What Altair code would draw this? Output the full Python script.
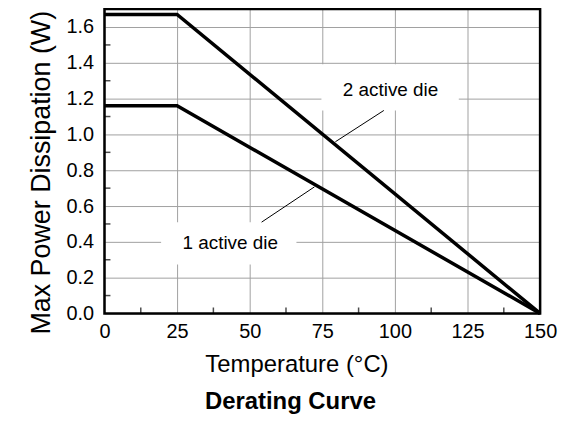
import altair as alt
import pandas as pd

# ---- data ----
temps = [0, 25, 150]
two_die = [1.67, 1.67, 0.0]
one_die = [1.16, 1.16, 0.0]
series_names = ["2 active die", "1 active die"]

x_domain = [0, 150]
y_domain = [0, 1.7]
x_ticks = [0, 25, 50, 75, 100, 125, 150]
y_ticks = [0.0, 0.2, 0.4, 0.6, 0.8, 1.0, 1.2, 1.4, 1.6]
x_minor = [12.5, 37.5, 62.5, 87.5, 112.5, 137.5]
y_minor = [0.1, 0.3, 0.5, 0.7, 0.9, 1.1, 1.3, 1.5]

label_text = ["2 active die", "1 active die"]
label_x = [98.5, 43.3]
label_y = [1.25, 0.395]
box_x1 = [74.7, 19.5]
box_x2 = [122.0, 66.1]
box_y1 = [1.134, 0.274]
box_y2 = [1.392, 0.51]
lead_x1 = [96.2, 54.1]
lead_y1 = [1.134, 0.51]
lead_x2 = [79.5, 72.3]
lead_y2 = [0.959, 0.707]

FONT = "Liberation Sans"

lines_df = pd.DataFrame({
    "T": temps * 2,
    "P": two_die + one_die,
    "series": [series_names[0]] * len(temps) + [series_names[1]] * len(temps),
})
ann_df = pd.DataFrame({
    "label": label_text, "lx": label_x, "ly": label_y,
    "bx1": box_x1, "bx2": box_x2, "by1": box_y1, "by2": box_y2,
    "ax1": lead_x1, "ay1": lead_y1, "ax2": lead_x2, "ay2": lead_y2,
})
xminor_df = pd.DataFrame({"T": x_minor, "P": [y_domain[0]] * len(x_minor)})
yminor_df = pd.DataFrame({"P": y_minor, "T": [x_domain[0]] * len(y_minor)})
frame_df = pd.DataFrame({"fx1": [x_domain[0]], "fx2": [x_domain[1]],
                         "fy1": [y_domain[0]], "fy2": [y_domain[1]]})

xscale = alt.Scale(domain=x_domain, nice=False, zero=True)
yscale = alt.Scale(domain=y_domain, nice=False, zero=True)

xaxis = alt.Axis(
    values=x_ticks, format="d", grid=True, gridColor="#a0a0a0", gridWidth=1,
    ticks=False, domain=False, labelFontSize=20, labelPadding=8,
    labelColor="black", labelFlush=False, labelOverlap=False,
    labelFont=FONT, titleFont=FONT,
    title="Temperature (°C)", titleFontSize=24, titleFontWeight="normal",
    titleColor="black", titleX=193, titleY=58, titleBaseline="alphabetic",
)
yaxis = alt.Axis(
    values=y_ticks, format=".1f", grid=True, gridColor="#a0a0a0", gridWidth=1,
    ticks=False, domain=False, labelFontSize=20, labelPadding=11,
    labelColor="black", labelOverlap=False,
    labelFont=FONT, titleFont=FONT,
    title="Max Power Dissipation (W)", titleFontSize=27, titleFontWeight="normal",
    titleColor="black", titleX=-55, titleY=164, titleBaseline="alphabetic",
)


def X(field):
    return alt.X(field, type="quantitative", scale=xscale, axis=xaxis)


def Y(field):
    return alt.Y(field, type="quantitative", scale=yscale, axis=yaxis)


boxes = alt.Chart(ann_df).mark_rect(fill="white", strokeWidth=0).encode(
    x=X("bx1"), x2="bx2", y=Y("by1"), y2="by2"
)
leaders = alt.Chart(ann_df).mark_rule(color="black", strokeWidth=1).encode(
    x=X("ax1"), x2="ax2", y=Y("ay1"), y2="ay2"
)
curves = alt.Chart(lines_df).mark_line(color="black", strokeWidth=3.5).encode(
    x=X("T"), y=Y("P"), detail="series"
)
labels = alt.Chart(ann_df).mark_text(
    font=FONT, fontSize=19, color="black", align="center", baseline="middle"
).encode(x=X("lx"), y=Y("ly"), text="label")
xmin = alt.Chart(xminor_df).mark_tick(
    orient="vertical", color="black", size=6, thickness=1.5, yOffset=-3
).encode(x=X("T"), y=Y("P"))
ymin = alt.Chart(yminor_df).mark_tick(
    orient="horizontal", color="black", size=6, thickness=1.5, xOffset=3
).encode(y=Y("P"), x=X("T"))
frame = alt.Chart(frame_df).mark_rect(
    filled=False, stroke="black", strokeWidth=2.5, clip=False
).encode(x=X("fx1"), x2="fx2", y=Y("fy1"), y2="fy2")

chart = alt.layer(boxes, leaders, curves, xmin, ymin, labels, frame).properties(
    width=438,
    height=306,
    background="white",
    autosize=alt.AutoSizeParams(type="none"),
    padding={"left": 97, "top": 0, "right": 20, "bottom": 106},
    title=alt.TitleParams(
        "Derating Curve", orient="bottom", anchor="middle", fontSize=24,
        fontWeight="bold", font=FONT,
        color="black", offset=14, dx=-32,
    ),
).configure_view(
    strokeWidth=0
)

chart.save("out.html", embed_options={"renderer": "svg", "actions": False})
